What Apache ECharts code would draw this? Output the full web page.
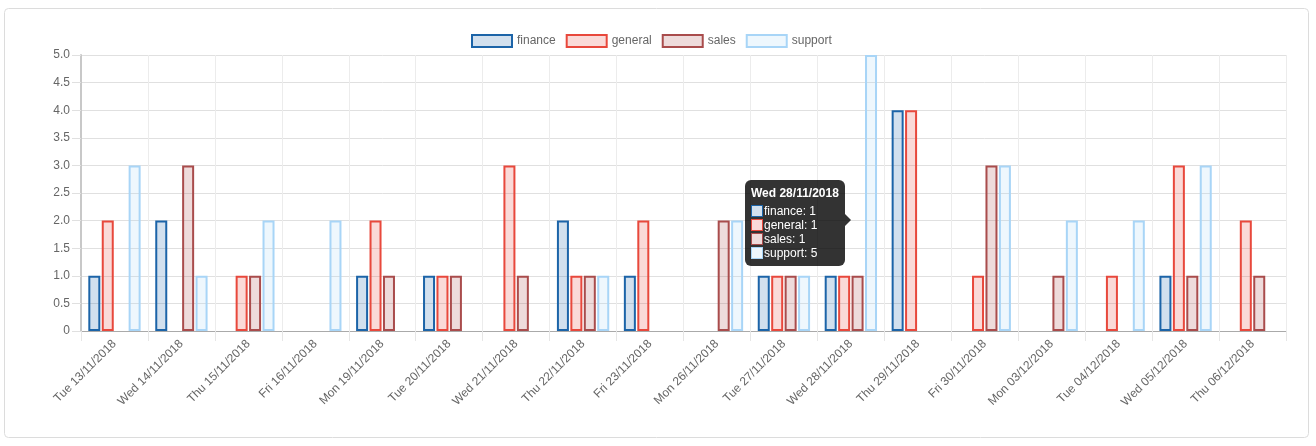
<!DOCTYPE html>
<html>
<head>
<meta charset="utf-8">
<script src="https://cdn.jsdelivr.net/npm/echarts@6/dist/echarts.min.js"></script>
<style>
  html, body { margin: 0; padding: 0; background: #fff; }
  #chart { width: 1316px; height: 446px; }
</style>
</head>
<body>
<div id="chart"></div>
<script>
var days = ['Tue 13/11/2018', 'Wed 14/11/2018', 'Thu 15/11/2018', 'Fri 16/11/2018',
    'Mon 19/11/2018', 'Tue 20/11/2018', 'Wed 21/11/2018', 'Thu 22/11/2018',
    'Fri 23/11/2018', 'Mon 26/11/2018', 'Tue 27/11/2018', 'Wed 28/11/2018',
    'Thu 29/11/2018', 'Fri 30/11/2018', 'Mon 03/12/2018', 'Tue 04/12/2018',
    'Wed 05/12/2018', 'Thu 06/12/2018'];
var finance = [1, 2, 0, 0, 1, 1, 0, 2, 1, 0, 1, 1, 4, 0, 0, 0, 1, 0];
var general = [2, 0, 1, 0, 2, 1, 3, 1, 2, 0, 1, 1, 4, 1, 0, 1, 3, 2];
var sales   = [0, 3, 1, 0, 1, 1, 1, 1, 0, 2, 1, 1, 0, 3, 1, 0, 1, 1];
var support = [3, 1, 2, 2, 0, 0, 0, 1, 0, 2, 1, 5, 0, 3, 2, 2, 3, 0];
var names = ['finance', 'general', 'sales', 'support'];
var borders = ['#1c64a8', '#e8483c', '#a94c4c', '#a8d5f7'];
var fills = ['rgba(28,100,168,0.2)', 'rgba(232,72,60,0.2)', 'rgba(169,76,76,0.2)', 'rgba(168,213,247,0.2)'];
var values = [finance, general, sales, support];
var shownDay = 11;

var myChart = echarts.init(document.getElementById('chart'));

var series = names.map(function (n, i) {
    return {
        name: n,
        type: 'bar',
        barWidth: 12,
        barGap: '12%',
        data: values[i].map(function (v) { return v === 0 ? null : v; }),
        itemStyle: { color: fills[i], borderColor: borders[i], borderWidth: 2 },
        emphasis: { disabled: true }
    };
});

var option = {
    animation: false,
    textStyle: { fontFamily: 'Liberation Sans, Arial, sans-serif' },
    graphic: [{
        type: 'rect',
        shape: { x: 4.5, y: 8.5, width: 1304, height: 429, r: 4 },
        style: { fill: 'none', stroke: '#dcdcdc', lineWidth: 1 },
        silent: true,
        z: -1
    }, {
        type: 'polygon',
        shape: { points: [[845, 214], [851, 220], [845, 226]] },
        style: { fill: 'rgba(0,0,0,0.8)' },
        silent: true,
        z: 100
    }],
    legend: {
        top: 34,
        left: 471,
        padding: 0,
        itemWidth: 40,
        itemHeight: 12,
        itemGap: 10,
        icon: 'rect',
        textStyle: { color: '#666', fontSize: 12 },
        data: names
    },
    tooltip: {
        trigger: 'axis',
        alwaysShowContent: true,
        transitionDuration: 0,
        axisPointer: { type: 'none' },
        backgroundColor: 'rgba(0,0,0,0.8)',
        borderWidth: 0,
        padding: [6, 6],
        extraCssText: 'border-radius:6px;box-shadow:none;',
        position: function () { return [745, 180]; },
        formatter: function (params) {
            var s = '<div style="font:bold 12px Liberation Sans,Arial;color:#fff;margin-bottom:4px;line-height:14px">' + params[0].name + '</div>';
            params.forEach(function (p) {
                var i = p.seriesIndex;
                s += '<div style="font:12px Liberation Sans,Arial;color:#fff;line-height:14px">' +
                    '<span style="display:inline-block;box-sizing:border-box;width:12px;height:12px;margin-right:1px;vertical-align:-2px;background:#fff;' +
                    'box-shadow:inset 0 0 0 12px ' + fills[i] + ';border:1px solid ' + borders[i] + '"></span>' +
                    p.seriesName + ': ' + (p.value == null ? 0 : p.value) + '</div>';
            });
            return s;
        }
    },
    grid: { left: 81, right: 30, top: 55, bottom: 115 },
    xAxis: {
        type: 'category',
        data: days,
        axisLine: { lineStyle: { color: '#aaa' } },
        axisTick: { show: true, length: 10, lineStyle: { color: '#e6e6e6' } },
        splitLine: { show: true, lineStyle: { color: '#ececec' } },
        axisLabel: { rotate: 45, color: '#666', fontSize: 12, margin: 11, interval: 0 }
    },
    yAxis: {
        type: 'value',
        min: 0,
        max: 5,
        interval: 0.5,
        axisLine: { show: true, lineStyle: { color: '#c8c8c8', width: 2 } },
        axisTick: { show: true, length: 9, lineStyle: { color: '#e0e0e0' } },
        splitLine: { lineStyle: { color: '#e0e0e0' } },
        axisLabel: {
            color: '#666', fontSize: 12, margin: 11,
            formatter: function (v) { return v === 0 ? '0' : v.toFixed(1); }
        }
    },
    series: series
};
myChart.setOption(option);
myChart.dispatchAction({ type: 'showTip', seriesIndex: 0, dataIndex: shownDay });
</script>
</body>
</html>
